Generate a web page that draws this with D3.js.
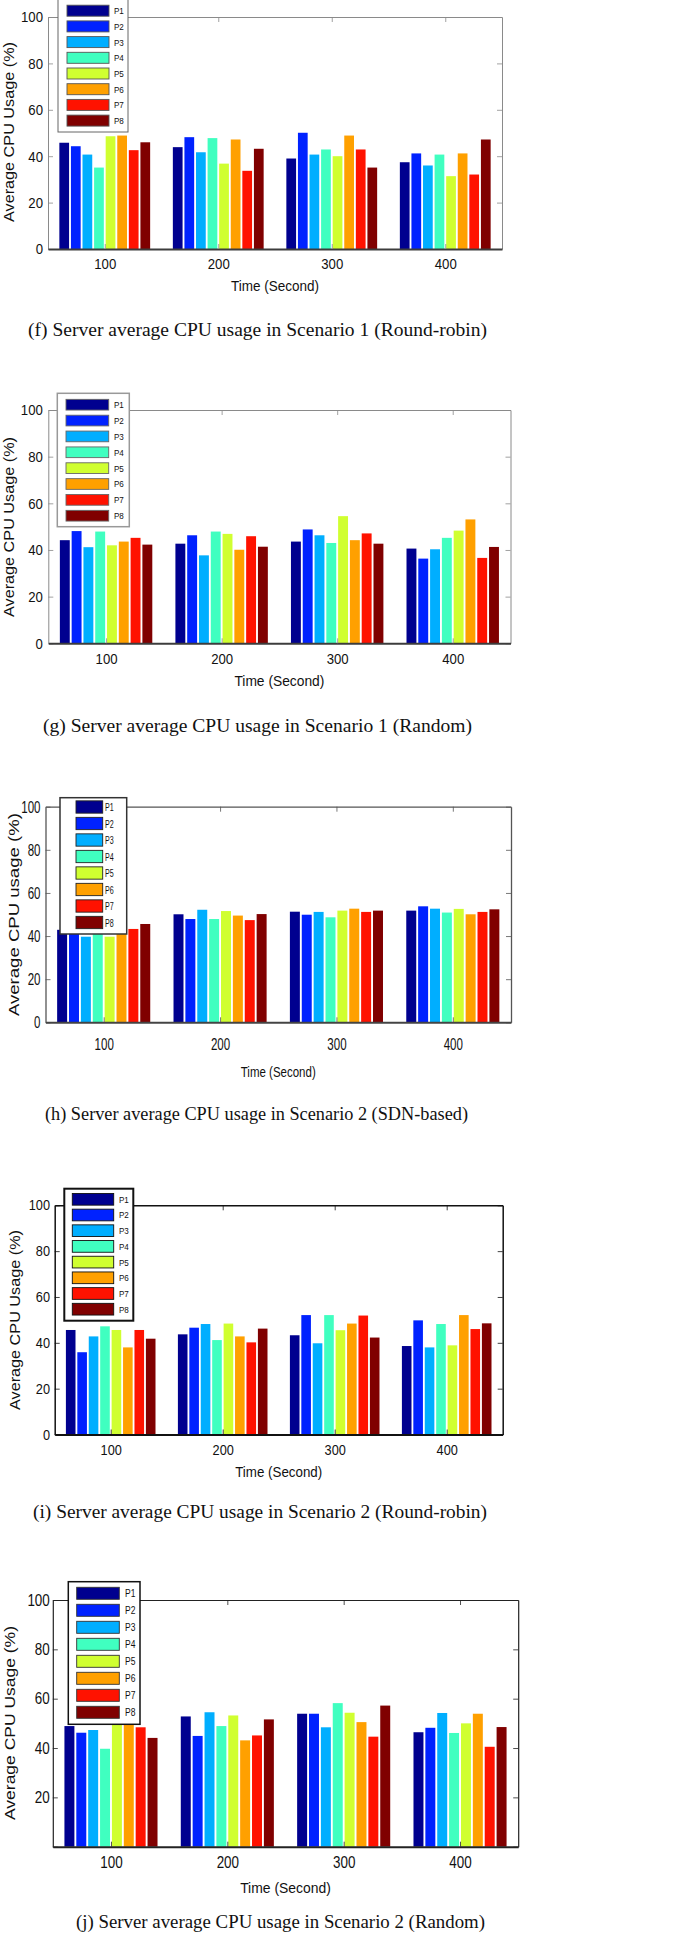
<!DOCTYPE html>
<html>
<head>
<meta charset="utf-8">
<script src="https://cdn.jsdelivr.net/npm/d3@7"></script>
<style>
  body { margin: 0; background: #fff; }
  svg { display: block; }
</style>
</head>
<body>
<svg id="fig" width="685" height="1944"></svg>
<script>
// ---- data -------------------------------------------------------------
const times = [100, 200, 300, 400];
const servers = ['P1', 'P2', 'P3', 'P4', 'P5', 'P6', 'P7', 'P8'];
const serverColors = ['#00008f', '#0022ff', '#00aeff', '#40ffc0', '#d0ff30', '#ffa000', '#ff1200', '#800000'];
const yTicks = [0, 20, 40, 60, 80, 100];

// one row per time step, one value per server (P1..P8)
const s1RoundRobin = [
  [45.8, 44.3, 40.7, 35.1, 48.6, 48.9, 42.6, 46.0],
  [43.9, 48.2, 41.7, 47.8, 36.8, 47.2, 33.7, 43.2],
  [39.0, 50.1, 40.7, 42.9, 40.0, 48.9, 42.9, 35.1],
  [37.4, 41.2, 36.0, 40.7, 31.4, 41.2, 32.1, 47.2]
];
const s1Random = [
  [44.2, 48.1, 41.2, 47.9, 42.0, 43.6, 45.2, 42.3],
  [42.7, 46.3, 37.7, 47.9, 46.9, 40.1, 45.9, 41.4],
  [43.6, 48.8, 46.3, 43.0, 54.5, 44.2, 47.1, 42.7],
  [40.6, 36.3, 40.3, 45.2, 48.3, 53.1, 36.6, 41.3]
];
const s2Sdn = [
  [42.9, 42.2, 39.7, 42.0, 39.7, 41.5, 43.3, 45.6],
  [50.1, 47.9, 52.2, 47.9, 51.6, 49.5, 47.4, 50.2],
  [51.3, 49.9, 51.2, 48.7, 51.8, 52.7, 51.2, 51.8],
  [51.8, 53.8, 52.7, 50.9, 52.6, 50.1, 51.2, 52.4]
];
const s2RoundRobin = [
  [45.6, 35.9, 42.8, 47.2, 45.6, 38.0, 45.6, 41.8],
  [43.7, 46.6, 48.2, 41.2, 48.4, 42.8, 40.2, 46.2],
  [43.3, 52.1, 39.8, 52.1, 45.5, 48.4, 51.9, 42.3],
  [38.6, 49.8, 38.0, 48.2, 38.9, 52.1, 46.0, 48.5]
];
const s2Random = [
  [48.9, 46.2, 47.3, 39.7, 50.5, 51.0, 48.4, 44.1],
  [52.8, 44.9, 54.5, 48.9, 53.2, 43.1, 45.1, 51.6],
  [53.9, 53.9, 48.4, 58.2, 54.3, 50.5, 44.6, 57.2],
  [46.4, 48.2, 54.2, 46.1, 50.0, 53.9, 40.5, 48.5]
];

const captions = [
  '(f) Server average CPU usage in Scenario 1 (Round-robin)',
  '(g) Server average CPU usage in Scenario 1 (Random)',
  '(h) Server average CPU usage in Scenario 2 (SDN-based)',
  '(i) Server average CPU usage in Scenario 2 (Round-robin)',
  '(j) Server average CPU usage in Scenario 2 (Random)'
];
const yLabels = [
  'Average CPU Usage (%)', 'Average CPU Usage (%)', 'Average CPU usage (%)',
  'Average CPU Usage (%)', 'Average CPU Usage (%)'
];
const xLabel = 'Time (Second)';

// ---- layout of each sub-figure (pixel geometry only) ------------------
const panels = [
  { data: s1RoundRobin, left: 48, right: 502, top: 17, bottom: 249,
    frame: '#8a8a8a', frameW: 1, base: '#3c3c3c',
    tickFont: 15.5, tickSx: 0.85, tickPad: 5, xTickY: 263.5, hideZero: false,
    titleY: 285, titleLen: 88, yLabelX: 9, yLabelY: 132, yLabelLen: 180, yLabelFont: 15,
    capY: 336, capX0: 28, capX1: 487,
    leg: { x0: 58, x1: 128, y0: -2, y1: 132, sw0: 67, sw1: 109, swH: 11, row0: 10.7, pitch: 15.7,
           tx: 114, font: 9.5, sx: 0.85, stroke: '#666', strokeW: 1, swStroke: '#555' } },
  { data: s1Random, left: 48.3, right: 510.5, top: 410, bottom: 643.3,
    frame: '#8a8a8a', frameW: 1, base: '#3c3c3c',
    tickFont: 15.5, tickSx: 0.85, tickPad: 5.5, xTickY: 658, hideZero: false,
    titleY: 680, titleLen: 90, yLabelX: 9, yLabelY: 527, yLabelLen: 180, yLabelFont: 15,
    capY: 732, capX0: 43, capX1: 472,
    leg: { x0: 57.3, x1: 129.3, y0: 393.3, y1: 526.7, sw0: 66, sw1: 108.7, swH: 10.7, row0: 404.7, pitch: 15.86,
           tx: 114, font: 9.5, sx: 0.85, stroke: '#999', strokeW: 1.5, swStroke: '#666' } },
  { data: s2Sdn, left: 45.5, right: 511, top: 806.7, bottom: 1022.3,
    frame: '#555', frameW: 1.3, base: '#444',
    tickFont: 17, tickSx: 0.68, tickPad: 5, xTickY: 1044, hideZero: false,
    titleY: 1071, titleLen: 75, yLabelX: 14, yLabelY: 914.6, yLabelLen: 203, yLabelFont: 15,
    capY: 1120, capX0: 45, capX1: 468,
    leg: { x0: 60, x1: 126.7, y0: 797.7, y1: 934, sw0: 76, sw1: 102.7, swH: 12.3, row0: 807, pitch: 16.5,
           tx: 105, font: 11.5, sx: 0.62, stroke: '#333', strokeW: 1.5, swStroke: '#222' } },
  { data: s2RoundRobin, left: 54.7, right: 502.7, top: 1205.3, bottom: 1434.5,
    frame: '#111', frameW: 1.5, base: '#111',
    tickFont: 14.5, tickSx: 0.88, tickPad: 4.7, xTickY: 1450, hideZero: false,
    titleY: 1471, titleLen: 87, yLabelX: 15, yLabelY: 1320, yLabelLen: 180, yLabelFont: 15,
    capY: 1518, capX0: 33, capX1: 487,
    leg: { x0: 64.3, x1: 133.3, y0: 1188.7, y1: 1320.7, sw0: 72.3, sw1: 113.7, swH: 11.7, row0: 1199.3, pitch: 15.7,
           tx: 119, font: 9.5, sx: 0.85, stroke: '#111', strokeW: 2, swStroke: '#111' } },
  { data: s2Random, left: 52.8, right: 518.2, top: 1600, bottom: 1846.7,
    frame: '#222', frameW: 1.2, base: '#222',
    tickFont: 16, tickSx: 0.84, tickPad: 3, xTickY: 1862, hideZero: true,
    titleY: 1887, titleLen: 90.7, yLabelX: 9, yLabelY: 1723, yLabelLen: 194, yLabelFont: 15.5,
    capY: 1928, capX0: 76, capX1: 485,
    leg: { x0: 68.3, x1: 140, y0: 1581.7, y1: 1724.3, sw0: 76.7, sw1: 119.3, swH: 12, row0: 1593.3, pitch: 17,
           tx: 125, font: 10, sx: 0.85, stroke: '#111', strokeW: 1.5, swStroke: '#333' } }
];

const sans = '"Liberation Sans", Arial, Helvetica, sans-serif';
const serif = '"Liberation Serif", "Times New Roman", serif';
const svg = d3.select('#fig');

function drawPanel(p, idx) {
  const g = svg.append('g');

  const x = d3.scaleLinear().domain([0.5, times.length + 0.5]).range([p.left, p.right]);
  const y = d3.scaleLinear().domain([0, 100]).range([p.bottom, p.top]);
  // bar offsets inside a group, in category units
  const inner = d3.scaleBand().domain(servers).range([-0.4, 0.4]).paddingInner(0.16);
  const barW = x(inner.bandwidth()) - x(0);

  // bars
  const groups = g.append('g').selectAll('g')
    .data(p.data)
    .join('g');
  groups.selectAll('rect')
    .data((row, i) => row.map((v, j) => ({ i, j, v })))
    .join('rect')
    .attr('x', d => x(d.i + 1 + inner(servers[d.j])))
    .attr('y', d => y(d.v))
    .attr('width', barW)
    .attr('height', d => y(0) - y(d.v))
    .attr('fill', d => serverColors[d.j]);

  // axes (inward ticks on all four sides, MATLAB box style)
  const xb = d3.axisBottom(x).tickValues(d3.range(1, times.length + 1))
    .tickFormat(d => times[d - 1]).tickSizeInner(-5).tickSizeOuter(0);
  const xt = d3.axisTop(x).tickValues(d3.range(1, times.length + 1))
    .tickFormat('').tickSizeInner(-5).tickSizeOuter(0);
  const yl = d3.axisLeft(y).tickValues(yTicks)
    .tickFormat(d => (p.hideZero && d === 0) ? '' : d).tickSizeInner(-5).tickSizeOuter(0);
  const yr = d3.axisRight(y).tickValues(yTicks)
    .tickFormat('').tickSizeInner(-5).tickSizeOuter(0);

  const gt = g.append('g').attr('transform', `translate(0,${p.top})`).call(xt);
  const gr = g.append('g').attr('transform', `translate(${p.right},0)`).call(yr);
  const gl = g.append('g').attr('transform', `translate(${p.left},0)`).call(yl);
  const gb = g.append('g').attr('transform', `translate(0,${p.bottom})`).call(xb);

  [gt, gr, gl].forEach(a => {
    a.select('.domain').attr('stroke', p.frame).attr('stroke-width', p.frameW);
    a.selectAll('.tick line').attr('stroke', p.frame).attr('stroke-width', 0.8);
  });
  gb.select('.domain').attr('stroke', p.base).attr('stroke-width', 2);
  gb.selectAll('.tick line').attr('stroke', p.frame).attr('stroke-width', 0.8);

  gl.selectAll('.tick text')
    .attr('font-family', sans).attr('font-size', p.tickFont).attr('fill', '#111')
    .attr('x', -p.tickPad / p.tickSx)
    .attr('transform', `scale(${p.tickSx},1)`);
  gb.selectAll('.tick text')
    .attr('font-family', sans).attr('font-size', p.tickFont).attr('fill', '#111')
    .attr('y', p.xTickY - p.bottom).attr('dy', '0.36em')
    .attr('transform', `scale(${p.tickSx},1)`);

  // axis titles
  g.append('text')
    .attr('x', (p.left + p.right) / 2).attr('y', p.titleY).attr('dy', '0.36em')
    .attr('text-anchor', 'middle')
    .attr('font-family', sans).attr('font-size', 15.5).attr('fill', '#111')
    .attr('textLength', p.titleLen).attr('lengthAdjust', 'spacingAndGlyphs')
    .text(xLabel);

  g.append('text')
    .attr('transform', `translate(${p.yLabelX},${p.yLabelY}) rotate(-90)`)
    .attr('dy', '0.36em')
    .attr('text-anchor', 'middle')
    .attr('font-family', sans).attr('font-size', p.yLabelFont).attr('fill', '#111')
    .attr('textLength', p.yLabelLen).attr('lengthAdjust', 'spacingAndGlyphs')
    .text(yLabels[idx]);

  // legend
  const L = p.leg;
  const lg = g.append('g');
  lg.append('rect')
    .attr('x', L.x0).attr('y', L.y0)
    .attr('width', L.x1 - L.x0).attr('height', L.y1 - L.y0)
    .attr('fill', '#fff').attr('stroke', L.stroke).attr('stroke-width', L.strokeW);
  const rows = lg.selectAll('g.row')
    .data(servers)
    .join('g').attr('class', 'row')
    .attr('transform', (d, i) => `translate(0,${L.row0 + i * L.pitch})`);
  rows.append('rect')
    .attr('x', L.sw0).attr('y', -L.swH / 2)
    .attr('width', L.sw1 - L.sw0).attr('height', L.swH)
    .attr('fill', (d, i) => serverColors[i])
    .attr('stroke', L.swStroke).attr('stroke-width', 0.9);
  rows.append('text')
    .attr('x', L.tx / L.sx).attr('dy', '0.36em')
    .attr('transform', `scale(${L.sx},1)`)
    .attr('font-family', sans).attr('font-size', L.font).attr('fill', '#111')
    .text(d => d);

  // caption
  svg.append('text')
    .attr('x', p.capX0).attr('y', p.capY)
    .attr('font-family', serif).attr('font-size', 18).attr('fill', '#111')
    .attr('textLength', p.capX1 - p.capX0).attr('lengthAdjust', 'spacingAndGlyphs')
    .text(captions[idx]);
}

panels.forEach(drawPanel);
</script>
</body>
</html>
